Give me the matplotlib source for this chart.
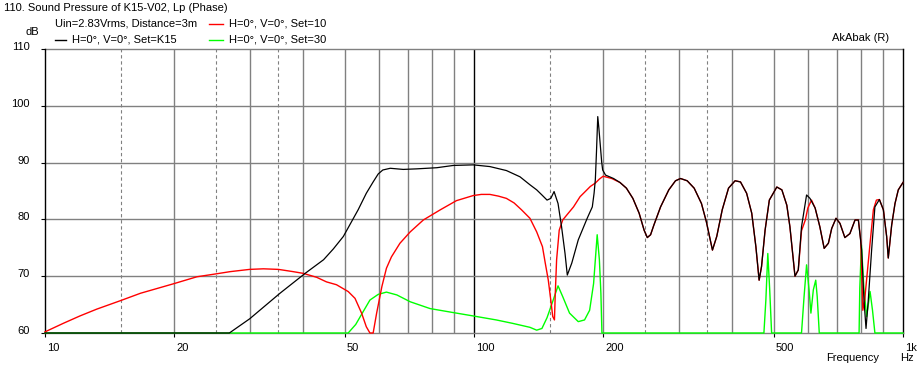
import matplotlib
matplotlib.use('Agg')
import matplotlib.pyplot as plt
from matplotlib.transforms import ScaledTranslation

plt.rcParams['font.family'] = ['Liberation Sans', 'DejaVu Sans']
plt.rcParams['font.size'] = 8

W, H = 924, 371

# Set=K15 (black)
k15_f = [10, 26.9, 30, 35.3, 40.4, 44.6, 47, 49.6, 53.7, 56.1, 58.2, 59.8, 61.3, 63.8, 68.4,
         73.6, 81.9, 89.5, 99.6, 108.9, 119, 128, 135, 140, 144, 148, 151, 153.7, 157, 160,
         163, 165, 169, 175, 183.6, 188.7, 190.5, 191.8, 193, 194.3, 195.5, 197, 198.5, 199.5,
         202.6, 211.5, 218.9, 226.6, 234.6, 242.6, 249.2, 253.5, 258, 262.6, 272.2, 284.5,
         294.9, 303, 314, 326, 339, 348, 359.6, 368, 379, 392, 406, 418, 432, 444, 454, 462,
         468, 477, 488, 508, 522, 536, 545, 555, 560, 570, 580, 596, 607, 624, 640, 655, 670,
         682, 698, 713, 732, 752, 773, 787, 801, 811, 820, 830, 845, 860, 881, 900, 916, 924,
         941, 958, 975, 1000]
k15_db = [60, 60, 62.5, 67.0, 70.5, 72.9, 74.8, 77.0, 81.7, 84.6, 86.6, 88.0, 88.7, 89.0, 88.8,
          88.9, 89.1, 89.5, 89.6, 89.3, 88.6, 87.5, 86.1, 85.2, 84.3, 83.4, 83.7, 84.9, 82.8, 78.7,
          74.0, 70.2, 72.3, 76.4, 80.2, 82.2, 84.6, 87.0, 92.0, 98.1, 96.0, 93.0, 90.0, 88.7,
          87.8, 87.2, 86.5, 85.5, 83.7, 81.1, 78.1, 76.8, 77.3, 79.0, 82.2, 85.2,
          86.8, 87.2, 86.8, 85.5, 82.8, 79.6, 74.6, 77.0, 81.7, 85.5, 86.8, 86.6, 84.6, 81.1, 75.2, 69.3,
          71.7, 78.1, 83.4, 85.7, 85.2, 82.5, 78.7, 72.9, 70.0, 71.1, 78.7, 84.3, 83.7, 82.0, 78.7, 74.9, 75.8,
          78.4, 80.2, 79.3, 76.8, 77.5, 79.9, 79.9, 74.6, 65.8, 60.8, 65.8, 74.6, 82.2, 83.5, 81.7, 77.0, 73.2,
          79.0, 82.8, 85.2, 86.5]

# Set=10 (red)
s10_f = [10, 11.03, 12.06, 13.2, 15, 16.7, 20, 22.6, 25, 27, 30, 32.3, 35, 37.9, 40, 43, 45.3,
         47.8, 50.9, 52.8, 54.7, 56.1, 57.2, 58.2, 59.3, 61, 62.5, 64.2, 67.2, 71, 76.2, 83.5,
         91, 99.6, 104, 108.9, 114, 119, 124, 129, 135, 140, 144.4, 146.6, 149, 151, 152.6,
         154, 154.7, 155.8, 158, 161, 165.5, 170.6, 176.7, 180, 186.7, 191.8, 196, 200, 209.5,
         218.9, 226.6, 234.6, 242.6, 249.2, 253.5, 258, 262.6, 272.2, 284.5, 294.9, 303, 314,
         326, 339, 348, 359.6, 368, 379, 392, 406, 418, 432, 444, 454, 462, 468, 477, 488, 508,
         522, 536, 545, 555, 560, 570, 580, 592, 600, 612, 624, 640, 655, 670, 682, 698, 713,
         732, 752, 773, 787, 797, 806, 814, 838, 853, 867, 881, 900, 916, 924, 941, 958, 975, 1000]
s10_db = [60.2, 61.7, 63.0, 64.2, 65.7, 67.0, 68.7, 69.9, 70.4, 70.8, 71.2, 71.3, 71.2, 70.8, 70.5,
          69.8, 69.0, 68.5, 67.3, 66.1, 63.5, 61.1, 60, 60, 63.5, 68.2, 71.4, 73.4, 75.8, 77.8, 79.9, 81.7,
          83.3, 84.2, 84.4, 84.4, 84.1, 83.7, 82.9, 81.7, 80.2, 77.8, 75.2, 72.3, 69.3, 65.8, 62.9,
          62.3, 67.0, 72.9, 78.1, 79.9, 81.0, 82.2, 84.0, 84.6, 85.8, 86.4, 87.1, 87.6, 87.2,
          86.5, 85.5, 83.7, 81.1, 78.1, 76.8, 77.3, 79.0, 82.2, 85.2, 86.8, 87.2, 86.8,
          85.5, 82.8, 79.6, 74.6, 77.0, 81.7, 85.5, 86.8, 86.6, 84.6, 81.1, 75.2, 69.3, 71.7, 78.1, 83.4, 85.7,
          85.2, 82.5, 78.7, 72.9, 70.0, 71.1, 78.0, 79.9, 82.0, 83.4, 82.0, 78.7, 74.9, 75.8, 78.4, 80.2, 79.3,
          76.8, 77.5, 79.9, 79.9, 76.4, 64.0, 65.8, 75.8, 81.7, 83.4, 83.5, 81.7, 77.0, 73.2, 79.0, 82.8, 85.2, 86.5]

# Set=30 (green)
s30_f = [10, 50.9, 53, 55.2, 57.2, 59.8, 62.5, 66.1, 71, 79, 89.4, 99.6, 112.7, 123, 135, 140,
         144, 148, 152, 157, 161, 167, 175, 181, 186, 190, 193.7, 196, 197.6, 198.7,
         474, 479, 484, 489, 494, 580, 588, 596, 604, 610, 618, 626, 631, 638,
         790, 793, 800, 811, 823, 838, 849, 860, 1000]
s30_db = [60, 60, 61.5, 63.8, 65.8, 66.8, 67.2, 66.7, 65.5, 64.3, 63.6, 63.0, 62.3, 61.7, 61.0, 60.5,
          60.8, 62.7, 65.2, 68.3, 66.4, 63.5, 62.0, 62.3, 64.0, 68.7, 77.3, 72.9, 67.0, 60,
          60, 65.8, 74.0, 67.6, 60, 60, 66.4, 72.0, 67.6, 63.5, 67.6, 69.3, 66.4, 60,
          60, 67.9, 75.5, 67.6, 62.9, 67.3, 64.0, 60, 60]

grid_solid = [20, 30, 40, 50, 60, 70, 80, 90, 200, 300, 400, 500, 600, 700, 800, 900]
grid_dashed = [15, 25, 35, 150, 250, 350]
grid_black = [100]
grid_db = [70, 80, 90, 100, 110]
x_ticks = [10, 20, 50, 100, 200, 500, 1000]
x_labels = ['10', '20', '50', '100', '200', '500', '1k']
y_ticks = [60, 70, 80, 90, 100, 110]

GRID = '#808080'

fig = plt.figure(figsize=(W / 100, H / 100), dpi=100)
fig.patch.set_facecolor('white')
ax = fig.add_axes([45 / W, 1 - 333 / H, 858 / W, 284 / H])
ax.set_xscale('log')
ax.set_xlim(10, 1000)
ax.set_ylim(60, 110)

for v in grid_solid:
    ax.axvline(v, color=GRID, lw=1, zorder=1)
for v in grid_dashed:
    ax.axvline(v, color=GRID, lw=0.8, ls=(0, (3, 2.5)), zorder=1)
for v in grid_black:
    ax.axvline(v, color='black', lw=1, zorder=1)
for v in grid_db:
    ax.axhline(v, color=GRID, lw=1, zorder=1, clip_on=False)

ax.plot(s30_f, s30_db, color='#00FF00', lw=1, zorder=3, clip_on=False)
ax.plot(s10_f, s10_db, color='#FF0000', lw=1, zorder=4, clip_on=False)
ax.plot(k15_f, k15_db, color='black', lw=0.9, zorder=5, clip_on=False)

ax.spines['top'].set_visible(False)
ax.spines['left'].set_color('black')
ax.spines['right'].set_color('black')
ax.spines['bottom'].set_color(GRID)
for s in ax.spines.values():
    s.set_linewidth(1)

ax.minorticks_off()
ax.set_xticks(x_ticks, x_labels)
ax.set_yticks(y_ticks, [str(v) for v in y_ticks])
ax.tick_params(axis='x', length=3, pad=4, color='black')
ax.tick_params(axis='y', length=3, pad=8, color='black')
for lbl in ax.get_xticklabels():
    lbl.set_horizontalalignment('left')
    lbl.set_transform(lbl.get_transform() + ScaledTranslation(2 / 100, 0, fig.dpi_scale_trans))
for lbl in ax.get_yticklabels():
    lbl.set_transform(lbl.get_transform() + ScaledTranslation(0, 3 / 100, fig.dpi_scale_trans))


def ftxt(x, y, s, **kw):
    fig.text(x / W, 1 - y / H, s, va='center', **kw)


def fline(x0, x1, y, c):
    fig.add_artist(plt.Line2D([x0 / W, x1 / W], [1 - y / H, 1 - y / H], color=c, lw=1))


ftxt(4, 8, '110. Sound Pressure of K15-V02, Lp (Phase)')
ftxt(55, 24, 'Uin=2.83Vrms, Distance=3m')
fline(55, 66, 40, 'black')
ftxt(72, 40, 'H=0°, V=0°, Set=K15')
fline(209, 223, 24, '#FF0000')
ftxt(229, 24, 'H=0°, V=0°, Set=10')
fline(209, 223, 40, '#00FF00')
ftxt(229, 40, 'H=0°, V=0°, Set=30')
ftxt(26, 32, 'dB')
ftxt(832, 38, 'AkAbak (R)')
ftxt(826, 358, 'Frequency')
ftxt(900, 358, 'Hz')

fig.savefig('out.png', dpi=100, facecolor='white')
